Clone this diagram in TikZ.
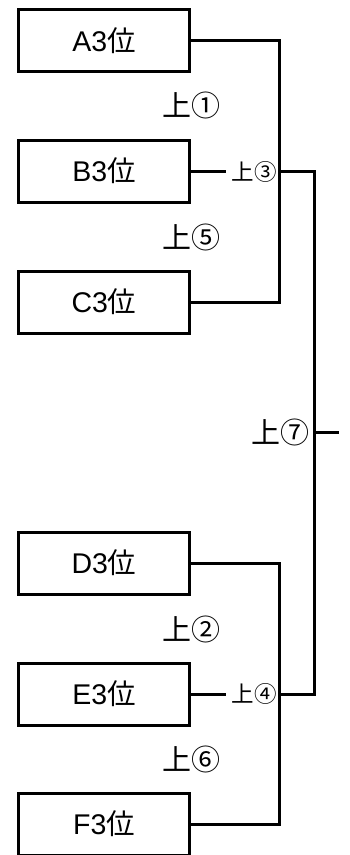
\documentclass[tikz,border=0pt]{standalone}
\usepackage{fontspec}
\setmainfont{Liberation Sans}
\newfontfamily\cjk{Noto Sans CJK JP}
\usepackage{tikz}

\tikzset{
  seed/.style={draw, line width=3pt, minimum width=171pt, minimum height=62pt,
    inner sep=0pt, font=\fontsize{28.5}{28.5}\selectfont},
  rnd/.style={inner sep=0pt, font=\cjk\fontsize{29}{29}\selectfont},
  rndsmall/.style={inner ysep=0pt, inner xsep=5pt, font=\cjk\fontsize{22.5}{22.5}\selectfont},
  bline/.style={line width=3pt}
}

\begin{document}
\begin{tikzpicture}[x=1pt,y=-1pt]
  \useasboundingbox (0,0) rectangle (350,855);
  % Gruppendritte
  \foreach \n/\y in {A/40.5,B/171,C/302,D/563,E/694,F/824}
    \node[seed] (\n) at (104,\y) {\n3{\cjk 位}};
  % Rundenbezeichnungen
  \node[rnd] (l1) at (191,105) {上①};
  \node[rnd] (l5) at (191,237) {上⑤};
  \node[rnd] (l2) at (191,629) {上②};
  \node[rnd] (l6) at (191,759) {上⑥};
  \node[rndsmall] (l3) at (254,172) {上③};
  \node[rndsmall] (l4) at (254,694) {上④};
  \node[rnd] (l7) at (280,432) {上⑦};
  \coordinate (m3) at (279,171);
  \coordinate (m4) at (279,694);
  \coordinate (r3) at (314,171);
  \coordinate (r4) at (314,694);
  \coordinate (r7) at (314,432.5);
  \coordinate (fin) at (339,432.5);
  % Klammern
  \draw[bline] (A.east) -- ++(88,0) |- (C.east);
  \draw[bline] (D.east) -- ++(88,0) |- (F.east);
  \draw[bline] (B.east) -- (B.east -| l3.west);
  \draw[bline] (E.east) -- (E.east -| l4.west);
  \draw[bline] (m3) -- (r3) -- (r4) -- (m4);
  \draw[bline] (r7) -- (fin);
\end{tikzpicture}
\end{document}
